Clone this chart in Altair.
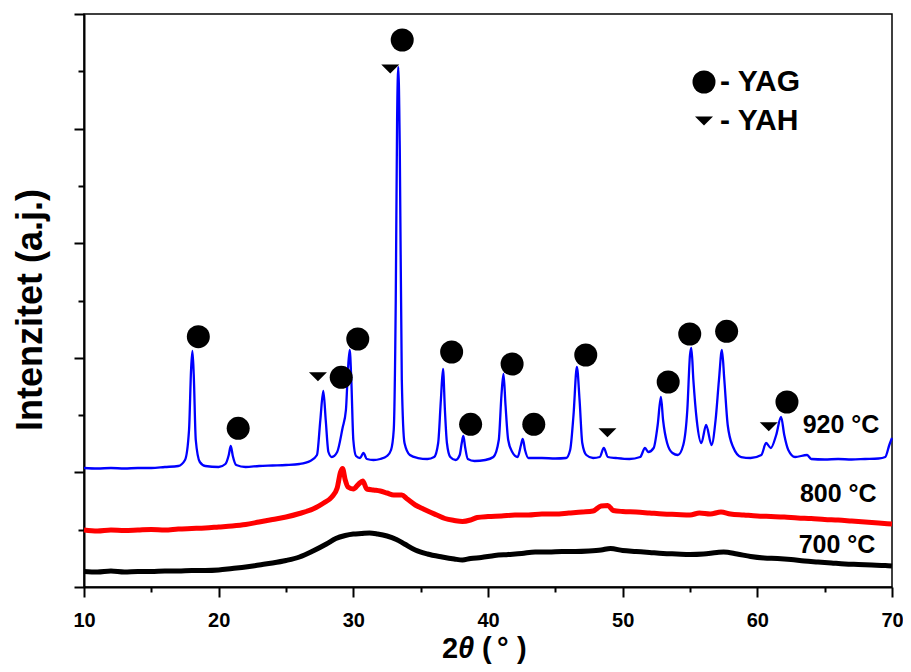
import altair as alt
import pandas as pd

# ---------------- data ----------------
# 920 °C (blue)
tt_920 = [10.0, 11.0, 12.0, 13.0, 14.0, 15.0, 16.0, 17.0, 17.5, 17.8, 17.95, 18.05, 18.15, 18.3, 18.6,
          19.0, 20.0, 20.5, 20.75, 20.9, 21.05, 21.3, 22.0, 23.0, 24.0, 25.0, 26.0, 26.8, 27.3, 27.55,
          27.77, 27.95, 28.15, 28.4, 28.8, 29.2, 29.45, 29.6, 29.73, 29.85, 30.0, 30.2, 30.5, 30.75, 31.0,
          31.5, 32.0, 32.5, 32.8, 33.0, 33.15, 33.25, 33.34, 33.45, 33.6, 33.8, 34.2, 34.8, 35.5, 36.0,
          36.3, 36.5, 36.66, 36.8, 36.95, 37.2, 37.6, 37.9, 38.05, 38.17, 38.3, 38.5, 39.0, 39.8, 40.4,
          40.8, 41.0, 41.15, 41.3, 41.5, 41.8, 42.2, 42.45, 42.58, 42.75, 43.0, 44.0, 45.0, 45.8, 46.1,
          46.35, 46.6, 46.8, 47.0, 47.3, 47.8, 48.3, 48.6, 48.9, 49.5, 50.5, 51.3, 51.66, 51.9, 52.3,
          52.6, 52.84, 53.0, 53.3, 53.7, 54.1, 54.5, 54.8, 55.0, 55.1, 55.25, 55.5, 55.84, 56.2, 56.6,
          56.9, 57.15, 57.37, 57.55, 57.8, 58.2, 58.8, 59.5, 60.3, 60.65, 61.0, 61.4, 61.76, 62.0, 62.3,
          62.8, 63.7, 64.0, 65.0, 66.0, 67.0, 68.0, 69.0, 69.5, 69.8, 70.0]
int_920 = [119, 118.5, 119, 118.5, 119, 119, 120, 121, 127, 157, 217, 236, 212, 147, 125,
           121, 120, 123, 132, 141, 131, 122, 120, 121, 121.5, 122, 123, 126, 132, 167,
           196, 167, 135, 130, 135, 159, 177, 217, 237, 207, 147, 131, 129, 134, 128,
           127, 128, 131, 137, 157, 287, 467, 520, 437, 207, 144, 132, 129, 128, 130,
           144, 187, 218, 177, 144, 130, 127, 132, 144, 151, 140, 128, 126, 127, 130,
           147, 192, 213, 182, 147, 135, 130, 142, 148, 137, 129, 129, 128.5, 129, 137,
           172, 220, 187, 144, 132, 129, 130, 139, 130, 129, 128, 130, 139, 135, 139,
           162, 190, 167, 144, 134, 132, 142, 177, 232, 239, 207, 167, 144, 162, 142,
           167, 207, 237, 207, 162, 140, 130, 129, 132, 144, 139, 152, 170, 152, 137,
           130, 132, 128, 127.5, 128, 127.5, 128, 128.5, 130, 142, 149]

# 800 °C (red)
tt_800 = [10, 11, 12, 13, 14, 15, 16, 17, 18, 19, 20, 21, 22, 23, 24, 25, 26, 27, 27.8, 28.4, 28.8,
          29.05, 29.2, 29.4, 29.6, 30.0, 30.4, 30.7, 31.0, 31.5, 32.0, 32.5, 33.0, 33.6, 34.0, 34.6,
          35.2, 35.6, 36.2, 36.8, 37.5, 38.1, 38.7, 39.2, 40.0, 41.0, 42.0, 43.0, 44.0, 45.0, 46.0,
          47.0, 47.8, 48.4, 48.9, 49.3, 50.0, 51.0, 52.0, 53.0, 54.0, 55.0, 55.7, 56.5, 57.3, 58.0,
          59.0, 60.0, 61.0, 62.0, 63.0, 64.0, 65.0, 66.0, 67.0, 68.0, 69.0, 70.0]
int_800 = [57, 56, 57, 56.5, 57, 57.5, 57, 58, 58.5, 59, 60, 61, 62.5, 65, 67.5, 70, 73.5, 78, 84, 90, 99,
           115, 118.5, 107, 100, 98, 103, 106, 98, 97, 96, 94, 92, 92, 88, 82,
           78, 75.5, 72, 68.5, 66.5, 65.5, 67, 69.5, 70.5, 71, 72, 72, 73, 73, 74,
           75, 76, 81, 81.5, 76.5, 75.5, 75, 74, 73, 72.5, 72, 74, 73, 75, 73,
           72, 71, 70.5, 70, 69, 68.5, 67.5, 67, 66, 65, 64, 63]

# 700 °C (black)
tt_700 = [10, 11, 12, 13, 14, 15, 16, 17, 18, 19, 20, 21, 22, 23, 24, 25, 26, 27, 28, 28.7, 29.4,
          30.0, 30.6, 31.2, 31.8, 32.5, 33.2, 33.8, 34.6, 35.5, 36.6, 37.5, 38.1, 38.7, 39.5, 40.5,
          41.5, 42.5, 43.5, 44.5, 45.5, 46.5, 47.5, 48.4, 49.1, 50.0, 51.0, 52.0, 53.0, 54.0, 55.0,
          56.0, 57.0, 57.5, 58.5, 59.5, 60.5, 61.5, 62.5, 63.5, 64.5, 65.5, 66.5, 67.5, 68.5, 69.5, 70.0]
int_700 = [15.5, 15, 16, 15, 15.5, 15.5, 16, 16, 16.5, 16.5, 17, 18.5, 20, 22, 24, 26.5, 30, 36, 43, 48.5, 51.5,
           53, 53.5, 54, 53, 51, 47.5, 43, 37, 33, 30, 28, 27, 28.5, 29.5, 31.5,
           32.5, 33.5, 35, 35, 35.5, 35.5, 36, 37, 38.5, 36.5, 35.5, 34.5, 33.5, 33, 32.5,
           33, 34.5, 35, 33, 30.5, 29, 28.5, 27.5, 26, 25, 24, 23, 22.5, 22, 21.5, 21]

# phase markers
yag_x = [18.49, 21.45, 29.1, 30.33, 33.63, 37.3, 38.71, 41.79, 43.4, 47.26, 53.38, 54.98, 57.72, 62.2]
yag_y = [250.3, 158.7, 209.7, 248, 547, 235, 162.7, 223, 162.7, 232, 205, 253, 255.7, 185]
yah_x = [27.37, 32.74, 48.87, 60.85]
yah_y = [210.3, 518, 154.3, 160.3]

# curve labels
temp_text = ["920 °C", "800 °C", "700 °C"]
temp_x = [63.37, 63.16, 63.07]
temp_y = [154, 85, 33.7]

x_ticks = [10, 15, 20, 25, 30, 35, 40, 45, 50, 55, 60, 65, 70]
y_ticks = [0, 57.3, 114.6, 171.9, 229.2, 286.5, 343.8, 401.1, 458.4, 515.7, 573]

# ---------------- chart ----------------
FONT = "Liberation Sans"
TRI = "M-1,-0.5L1,-0.5L0,0.5Z"

df920 = pd.DataFrame({"tt": tt_920, "I": int_920})
df800 = pd.DataFrame({"tt": tt_800, "I": int_800})
df700 = pd.DataFrame({"tt": tt_700, "I": int_700})
dfm = pd.DataFrame({
    "tt": yag_x + yah_x,
    "I": yag_y + yah_y,
    "phase": ["YAG"] * len(yag_x) + ["YAH"] * len(yah_x),
})
dft = pd.DataFrame({"tt": temp_x, "I": temp_y, "t": temp_text})

xscale = alt.Scale(domain=[10, 70], nice=False, zero=False)
yscale = alt.Scale(domain=[0, 573], nice=False, zero=False)

xaxis = alt.Axis(
    values=x_ticks, title=None, grid=False,
    labelExpr="datum.value % 10 === 0 ? datum.label : ''",
    labelFont=FONT, labelFontSize=20, labelFontWeight="bold", labelColor="black",
    labelPadding=13, labelFlush=False,
    tickSize={"condition": {"test": "datum.value % 10 === 0", "value": 10}, "value": 5},
    tickColor="black", tickWidth=2, domainColor="black", domainWidth=2,
)
yaxis = alt.Axis(
    values=y_ticks, title=None, grid=False, labels=False,
    tickSize={"condition": {"test": "round(datum.value / 57.3) % 2 === 0", "value": 10}, "value": 6},
    tickColor="black", tickWidth=2, domainColor="black", domainWidth=2,
)

X = alt.X("tt:Q", scale=xscale, axis=xaxis)
Y = alt.Y("I:Q", scale=yscale, axis=yaxis)

l700 = alt.Chart(df700).mark_line(color="black", strokeWidth=5, interpolate="monotone").encode(x=X, y=Y)
l800 = alt.Chart(df800).mark_line(color="#ff0000", strokeWidth=5, interpolate="monotone").encode(x="tt:Q", y="I:Q")
l920 = alt.Chart(df920).mark_line(color="#0000ff", strokeWidth=2.3, interpolate="monotone").encode(x="tt:Q", y="I:Q")

leg = alt.Legend(title=None, orient="none", legendX=605, legendY=53,
                 labelFont=FONT, labelFontSize=30, labelFontWeight="bold",
                 labelColor="black",
                 labelExpr="datum.label == 'YAH' ? '\\u2002\\u2002- YAH' : '- YAG'",
                 labelOffset=1, rowPadding=9, padding=0, labelLimit=300,
                 symbolFillColor="black", symbolStrokeWidth=0)

markers = alt.Chart(dfm).mark_point(filled=True, color="black", opacity=1, strokeWidth=0).encode(
    x="tt:Q", y="I:Q",
    shape=alt.Shape("phase:N", scale=alt.Scale(domain=["YAG", "YAH"], range=["circle", TRI]), legend=leg),
    size=alt.Size("phase:N", scale=alt.Scale(domain=["YAG", "YAH"], range=[529, 324]), legend=leg),
)

temps = alt.Chart(dft).mark_text(align="left", baseline="alphabetic", font=FONT, fontSize=25,
                                 fontWeight="bold", color="black").encode(x="tt:Q", y="I:Q", text="t:N")

ytitle = alt.Chart(pd.DataFrame({"t": ["Intenzitet (a.j.)"]})).mark_text(
    angle=270, align="center", baseline="alphabetic", font=FONT, fontSize=36, fontWeight="bold",
    color="black").encode(x=alt.value(-42.5), y=alt.value(296), text="t:N")

XT_Y = 644
xt_parts = [("2", 358, "normal"), ("θ", 374, "italic"), ("(", 398, "normal"),
            ("°", 413, "normal"), (")", 433, "normal")]
xt_layers = [
    alt.Chart(pd.DataFrame({"t": [s]})).mark_text(
        align="left", baseline="alphabetic", font=FONT, fontSize=29, fontWeight="bold",
        fontStyle=st, color="black"
    ).encode(x=alt.value(px), y=alt.value(XT_Y), text="t:N")
    for s, px, st in xt_parts
]

chart = alt.layer(l700, l800, l920, markers, temps, ytitle, *xt_layers).properties(
    width=808, height=573,
    autosize=alt.AutoSizeParams(type="none"),
    padding={"left": 76, "top": 6, "right": 11, "bottom": 77},
).configure_view(stroke="black", strokeWidth=1.5)

chart.save("out.html", embed_options={"renderer": "svg", "actions": False})
